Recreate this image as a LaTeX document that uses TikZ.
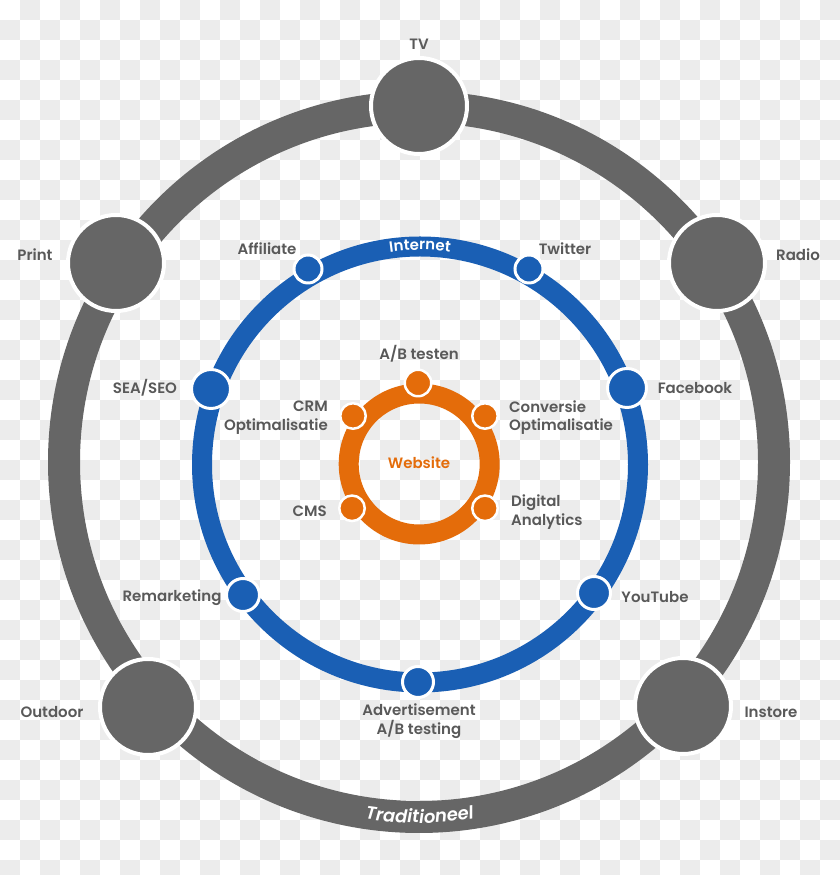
\documentclass[tikz,border=0pt]{standalone}
\usepackage{fontspec}
\setmainfont{Poppins SemiBold}
\newfontfamily\tradfont{Poppins SemiBold}[FakeSlant=0.15]
\usetikzlibrary{decorations.text}
\definecolor{ringgray}{HTML}{666666}
\definecolor{ringblue}{HTML}{1A5FB4}
\definecolor{ringorange}{HTML}{E46C0A}
\definecolor{txtgray}{HTML}{595959}
\definecolor{checker}{HTML}{ECECEC}
\begin{document}
\begin{tikzpicture}[x=1pt,y=1pt,
  lbl/.style={text=txtgray, font=\fontsize{15}{18.5}\selectfont, inner sep=0pt},
  gnode/.style={circle, fill=ringgray, draw=white, line width=4pt, minimum size=96pt, inner sep=0pt},
  bnode/.style={circle, fill=ringblue, draw=white, line width=3pt, inner sep=0pt, minimum size=#1},
  onode/.style={circle, fill=ringorange, draw=white, line width=2.5pt, inner sep=0pt, minimum size=#1},
]
\useasboundingbox (0,0) rectangle (840,875);
% checkerboard background
\begin{scope}
\clip (0,0) rectangle (840,875);
\fill[white] (0,0) rectangle (840,875);
\foreach \i in {0,...,41}{
  \pgfmathtruncatemacro\off{mod(\i+1,2)}
  \foreach \j in {0,2,...,42}{
    \fill[checker] ({20*\i},{875-20*(\j+\off)}) rectangle ++(20,-20);
  }
}
\end{scope}

\coordinate (G) at (419,413);
\coordinate (B) at (420,410.5);
\coordinate (O) at (419.2,411);

% rings
\draw[ringgray, line width=32pt] (G) circle[radius=355];
\draw[ringblue, line width=20pt] (B) circle[radius=218];
\draw[ringorange, line width=20pt] (O) circle[radius=70.5];

% ring titles
\path[decorate, decoration={text along path, text align=center, text color=white,
  text={|\fontsize{15}{15}\selectfont|Internet}}]
  ([shift={(110:214.5)}]B) arc[start angle=110, end angle=70, radius=214.5];
\path[decorate, decoration={text along path, text align=center, text color=white,
  text={|\tradfont\fontsize{18}{18}\selectfont|Traditioneel}}]
  ([shift={(250:361)}]G) arc[start angle=250, end angle=290, radius=361];

% gray nodes
\node[gnode] (tv) at (419,769) {};
\node[gnode] (print) at (116,612) {};
\node[gnode] (radio) at (717,612) {};
\node[gnode] (outdoor) at (148,168) {};
\node[gnode] (instore) at (683,169) {};

% blue nodes
\node[bnode=28pt] (affiliate) at (308,606) {};
\node[bnode=28pt] (twitter) at (529,606) {};
\node[bnode=39pt] (sea) at (211,486) {};
\node[bnode=39pt] (facebook) at (627,487) {};
\node[bnode=33pt] (remarketing) at (243,280) {};
\node[bnode=33pt] (youtube) at (594,282) {};
\node[bnode=31pt] (advert) at (418,193) {};

% orange nodes
\node[onode=26.5pt] (abtest) at (418,492) {};
\node[onode=25.5pt] (crm) at (353,459) {};
\node[onode=25.5pt] (conv) at (485,459) {};
\node[onode=25.5pt] (cms) at (352,366.7) {};
\node[onode=25.5pt] (digital) at (485,366.7) {};

% labels
\node[lbl] (ltv) at (419,831) {TV};
\node[lbl] (lprint) at (35,620) {Print};
\node[lbl] (lradio) at (798,620) {Radio};
\node[lbl] (loutdoor) at (52,163) {Outdoor};
\node[lbl] (linstore) at (771,163) {Instore};
\node[lbl] (laffiliate) at (267,626) {Affiliate};
\node[lbl] (ltwitter) at (565,626) {Twitter};
\node[lbl] (lsea) at (145,487) {SEA/SEO};
\node[lbl] (lfacebook) at (695,487) {Facebook};
\node[lbl] (lremarketing) at (172,277) {Remarketing};
\node[lbl] (lyoutube) at (655,278) {YouTube};
\node[lbl, align=center] (ladvert) at (419,154) {Advertisement\\A/B testing};
\node[lbl] (labtest) at (419,521) {A/B testen};
\node[lbl, align=right, anchor=east] (lcrm) at (328,457.5) {CRM\\Optimalisatie};
\node[lbl, align=left, anchor=west] (lconv) at (509,457.5) {Conversie\\Optimalisatie};
\node[lbl] (lcms) at (309.7,363.5) {CMS};
\node[lbl, align=left, anchor=west] (ldigital) at (511,363) {Digital\\Analytics};
\node[lbl, text=ringorange] (lwebsite) at (419,412.5) {Website};
\end{tikzpicture}
\end{document}
